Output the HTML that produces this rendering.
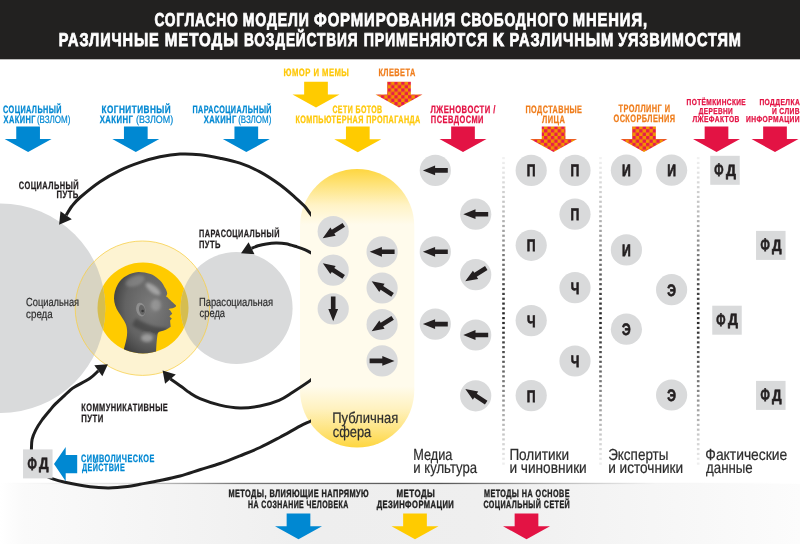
<!DOCTYPE html>
<html><head><meta charset="utf-8"><style>
html,body{margin:0;padding:0;background:#fff;}
svg{display:block;font-family:"Liberation Sans",sans-serif;text-rendering:geometricPrecision;will-change:transform;}
</style></head><body>
<svg width="800" height="544" viewBox="0 0 800 544">
<defs>
<pattern id="chk" x="0" y="0" width="6.8" height="6.8" patternUnits="userSpaceOnUse">
<rect width="6.8" height="6.8" fill="#f39200"/>
<rect x="0.05" y="0.05" width="3.3" height="3.3" fill="#e5184f"/>
<rect x="3.45" y="3.45" width="3.3" height="3.3" fill="#e5184f"/>
</pattern>
<linearGradient id="caps" x1="0" y1="169" x2="0" y2="447.5" gradientUnits="userSpaceOnUse">
<stop offset="0" stop-color="#fed640"/>
<stop offset="0.06" stop-color="#fee47f"/>
<stop offset="0.13" stop-color="#fff3c6"/>
<stop offset="0.2" stop-color="#fffbec"/>
<stop offset="0.78" stop-color="#fffbec"/>
<stop offset="0.86" stop-color="#fff2c0"/>
<stop offset="0.94" stop-color="#fee37c"/>
<stop offset="1" stop-color="#fed640"/>
</linearGradient>
<linearGradient id="band" x1="0" y1="0" x2="800" y2="0" gradientUnits="userSpaceOnUse">
<stop offset="0" stop-color="#ffffff"/>
<stop offset="0.03" stop-color="#fafafa"/>
<stop offset="0.4" stop-color="#eeeeee"/>
<stop offset="0.6" stop-color="#efefef"/>
<stop offset="1" stop-color="#fcfcfc"/>
</linearGradient>
<linearGradient id="bandline" x1="0" y1="0" x2="800" y2="0" gradientUnits="userSpaceOnUse">
<stop offset="0" stop-color="#ffffff"/>
<stop offset="0.15" stop-color="#e0e0e0"/>
<stop offset="0.3" stop-color="#777777"/>
<stop offset="0.55" stop-color="#555555"/>
<stop offset="0.7" stop-color="#bbbbbb"/>
<stop offset="0.82" stop-color="#f4f4f4"/>
<stop offset="1" stop-color="#ffffff"/>
</linearGradient>
<linearGradient id="dots" x1="0" y1="157" x2="0" y2="463" gradientUnits="userSpaceOnUse">
<stop offset="0" stop-color="#f2f2f2"/>
<stop offset="0.2" stop-color="#b5b5b5"/>
<stop offset="0.4" stop-color="#555"/>
<stop offset="0.52" stop-color="#222"/>
<stop offset="0.7" stop-color="#666"/>
<stop offset="0.88" stop-color="#bbb"/>
<stop offset="1" stop-color="#eee"/>
</linearGradient>
<radialGradient id="headg" cx="0.6" cy="0.42" r="0.7">
<stop offset="0" stop-color="#7c7c7c"/>
<stop offset="0.6" stop-color="#626262"/>
<stop offset="1" stop-color="#363636"/>
</radialGradient>
<filter id="blur2" x="-20%" y="-20%" width="140%" height="140%"><feGaussianBlur stdDeviation="1.6"/></filter>
<clipPath id="headclip"><path d="M138.3,271.9 C130,272.5 122,277 118,284 C115,289 114,294 114,298.4 C114,303 116,308 118.1,311.5 C121,316 124,320 125.5,323.5 C127.5,328 127.5,334 126.5,338.5 C125.5,344 124,348 122,356 L156,356 C156,349 156.5,342 157.5,334.3 C158,332 159,331.8 160,331.5 C164,330.5 168,329 170.7,326.7 C170.5,324 170,322 170.2,320.2 C171,319.5 171.7,318.8 171.7,318.2 C170.5,317.5 169.5,316.8 169.7,316.1 C171,315 172.2,314.3 172.2,313.6 C171.5,312.5 170.7,311.8 170.7,311.1 C170,310 169,309.6 168.6,309 C171,308.6 174.5,308 175.6,306.8 C176.4,306 176.2,305.4 175.6,304.9 C173.5,303.2 172,302 171,300.8 C169.5,299.4 168.3,298.4 167.8,297.5 C167,297 166.4,296.8 166.1,296.4 C166.8,295 167.3,294 167.2,293.3 C166.5,290.5 165.8,289 164.6,287.3 C163,283.5 161,281 158.6,279.2 C156,277 153,275 150.5,274.1 C146.5,272.5 142,271.8 138.3,271.9 Z"/></clipPath>
<clipPath id="innerclip"><circle cx="143" cy="308" r="45.5"/></clipPath>
<marker id="ah" viewBox="0 0 10 10" refX="2" refY="5" markerWidth="4.2" markerHeight="4.2" orient="auto-start-reverse" markerUnits="strokeWidth">
<path d="M0,0 L10,5 L0,10 Z" fill="#1e1e1e"/>
</marker>
</defs>

<rect x="0" y="0" width="800" height="59.3" fill="#222120"/>
<text x="154.44" y="26.40" font-size="18.6" font-weight="bold" fill="#fff" stroke="#fff" stroke-width="0.8" letter-spacing="1.12" textLength="84.10" lengthAdjust="spacingAndGlyphs">СОГЛАСНО</text>
<text x="242.82" y="26.40" font-size="18.6" font-weight="bold" fill="#fff" stroke="#fff" stroke-width="0.8" letter-spacing="1.12" textLength="66.78" lengthAdjust="spacingAndGlyphs">МОДЕЛИ</text>
<text x="314.05" y="26.40" font-size="18.6" font-weight="bold" fill="#fff" stroke="#fff" stroke-width="0.8" letter-spacing="1.12" textLength="142.06" lengthAdjust="spacingAndGlyphs">ФОРМИРОВАНИЯ</text>
<text x="460.78" y="26.40" font-size="18.6" font-weight="bold" fill="#fff" stroke="#fff" stroke-width="0.8" letter-spacing="1.12" textLength="108.32" lengthAdjust="spacingAndGlyphs">СВОБОДНОГО</text>
<text x="572.82" y="26.40" font-size="18.6" font-weight="bold" fill="#fff" stroke="#fff" stroke-width="0.8" letter-spacing="1.12" textLength="75.07" lengthAdjust="spacingAndGlyphs">МНЕНИЯ,</text>
<text x="58.82" y="46.10" font-size="18.6" font-weight="bold" fill="#fff" stroke="#fff" stroke-width="0.8" letter-spacing="1.12" textLength="100.88" lengthAdjust="spacingAndGlyphs">РАЗЛИЧНЫЕ</text>
<text x="164.74" y="46.10" font-size="18.6" font-weight="bold" fill="#fff" stroke="#fff" stroke-width="0.8" letter-spacing="1.12" textLength="74.11" lengthAdjust="spacingAndGlyphs">МЕТОДЫ</text>
<text x="243.90" y="46.10" font-size="18.6" font-weight="bold" fill="#fff" stroke="#fff" stroke-width="0.8" letter-spacing="1.12" textLength="114.49" lengthAdjust="spacingAndGlyphs">ВОЗДЕЙСТВИЯ</text>
<text x="363.63" y="46.10" font-size="18.6" font-weight="bold" fill="#fff" stroke="#fff" stroke-width="0.8" letter-spacing="1.12" textLength="124.62" lengthAdjust="spacingAndGlyphs">ПРИМЕНЯЮТСЯ</text>
<text x="492.46" y="46.10" font-size="18.6" font-weight="bold" fill="#fff" stroke="#fff" stroke-width="0.8" letter-spacing="1.12" textLength="12.69" lengthAdjust="spacingAndGlyphs">К</text>
<text x="509.56" y="46.10" font-size="18.6" font-weight="bold" fill="#fff" stroke="#fff" stroke-width="0.8" letter-spacing="1.12" textLength="104.62" lengthAdjust="spacingAndGlyphs">РАЗЛИЧНЫМ</text>
<text x="618.35" y="46.10" font-size="18.6" font-weight="bold" fill="#fff" stroke="#fff" stroke-width="0.8" letter-spacing="1.12" textLength="123.43" lengthAdjust="spacingAndGlyphs">УЯЗВИМОСТЯМ</text>
<rect x="0" y="483.5" width="800" height="60.5" fill="url(#band)"/>
<rect x="0" y="482.8" width="800" height="1.3" fill="url(#bandline)"/>
<circle cx="0.5" cy="308.3" r="104.8" fill="#d9dadb"/>
<circle cx="236.6" cy="308" r="56" fill="#d9dadb"/>
<circle cx="142.4" cy="308.2" r="67.2" fill="#fdf3d2"/>
<circle cx="143" cy="308" r="45.5" fill="#ffcb00"/>
<clipPath id="haloclip"><circle cx="142.4" cy="308.2" r="67.2"/></clipPath>
<clipPath id="inclip2"><circle cx="143" cy="308" r="45.5"/></clipPath>
<g clip-path="url(#haloclip)"><circle cx="0.5" cy="308.3" r="104.8" fill="#d8d4c2"/><circle cx="236.6" cy="308" r="56" fill="#d8d4c2"/></g>
<g clip-path="url(#inclip2)"><circle cx="0.5" cy="308.3" r="104.8" fill="#d5bd50"/><circle cx="236.6" cy="308" r="56" fill="#d5bd50"/></g>
<circle cx="142.4" cy="308.2" r="67.2" fill="none" stroke="#f7cc3c" stroke-width="0.8" opacity="0.9"/>
<g clip-path="url(#innerclip)">
<path d="M138.3,271.9 C130,272.5 122,277 118,284 C115,289 114,294 114,298.4 C114,303 116,308 118.1,311.5 C121,316 124,320 125.5,323.5 C127.5,328 127.5,334 126.5,338.5 C125.5,344 124,348 122,356 L156,356 C156,349 156.5,342 157.5,334.3 C158,332 159,331.8 160,331.5 C164,330.5 168,329 170.7,326.7 C170.5,324 170,322 170.2,320.2 C171,319.5 171.7,318.8 171.7,318.2 C170.5,317.5 169.5,316.8 169.7,316.1 C171,315 172.2,314.3 172.2,313.6 C171.5,312.5 170.7,311.8 170.7,311.1 C170,310 169,309.6 168.6,309 C171,308.6 174.5,308 175.6,306.8 C176.4,306 176.2,305.4 175.6,304.9 C173.5,303.2 172,302 171,300.8 C169.5,299.4 168.3,298.4 167.8,297.5 C167,297 166.4,296.8 166.1,296.4 C166.8,295 167.3,294 167.2,293.3 C166.5,290.5 165.8,289 164.6,287.3 C163,283.5 161,281 158.6,279.2 C156,277 153,275 150.5,274.1 C146.5,272.5 142,271.8 138.3,271.9 Z" fill="url(#headg)"/>
<g clip-path="url(#headclip)" filter="url(#blur2)">
<ellipse cx="153" cy="289" rx="9" ry="3.5" fill="#d0d0d0" opacity="0.55" transform="rotate(38 153 289)"/>
<ellipse cx="135" cy="281" rx="10" ry="5" fill="#c0c0c0" opacity="0.3" transform="rotate(-20 135 281)"/>
<ellipse cx="156" cy="305" rx="5" ry="6" fill="#c8c8c8" opacity="0.35"/>
<ellipse cx="147" cy="338" rx="6" ry="4" fill="#d0d0d0" opacity="0.5"/>
<path d="M136,318 C145,324 155,328 168,328 L162,335 C150,335 140,331 132,325 Z" fill="#111" opacity="0.28"/>
</g>
<ellipse cx="140.8" cy="309.6" rx="4.6" ry="7" fill="#8e8e8e" transform="rotate(-12 140.8 309.6)"/>
<ellipse cx="142" cy="310" rx="3" ry="5" fill="#656565" transform="rotate(-12 142 310)"/>
<circle cx="142.6" cy="311" r="1.3" fill="#3a3a3a"/>
</g>
<rect x="300" y="169" width="114.3" height="278.5" rx="57.15" ry="57.15" fill="url(#caps)"/>
<clipPath id="lclip"><rect x="0" y="0" width="311" height="544"/></clipPath>
<path d="M66.15,215.30 C67.12,213.75 69.69,208.97 72.00,206.00 C74.31,203.03 75.33,201.55 80.00,197.50 C84.67,193.45 93.33,186.23 100.00,181.70 C106.67,177.17 113.33,173.52 120.00,170.30 C126.67,167.08 133.33,164.65 140.00,162.40 C146.67,160.15 153.33,158.18 160.00,156.80 C166.67,155.42 173.33,154.43 180.00,154.10 C186.67,153.77 193.33,154.12 200.00,154.80 C206.67,155.48 213.33,156.80 220.00,158.20 C226.67,159.60 233.33,160.92 240.00,163.20 C246.67,165.48 253.33,168.30 260.00,171.90 C266.67,175.50 274.17,180.57 280.00,184.80 C285.83,189.03 290.93,193.75 295.00,197.30 C299.07,200.85 301.73,203.22 304.40,206.10 C307.07,208.98 308.73,211.70 311.00,214.60 C313.27,217.50 316.83,222.02 318.00,223.50" fill="none" stroke="#1e1e1e" stroke-width="3.0" clip-path="url(#lclip)"/>
<polygon points="59.1,224.8 60.5,211.3 71.8,219.3" fill="#1e1e1e"/>
<path d="M251.55,248.25 C252.62,247.84 255.54,246.53 258.00,245.80 C260.46,245.08 263.30,244.37 266.30,243.90 C269.30,243.43 272.72,243.03 276.00,243.00 C279.28,242.97 282.50,243.05 286.00,243.70 C289.50,244.35 293.78,245.87 297.00,246.90 C300.22,247.93 303.03,248.95 305.30,249.90 C307.57,250.85 308.48,251.42 310.60,252.60 C312.72,253.78 316.77,256.27 318.00,257.00" fill="none" stroke="#1e1e1e" stroke-width="3.0" clip-path="url(#lclip)"/>
<polygon points="241,253.2 248.6,242.2 254.5,254.3" fill="#1e1e1e"/>
<path d="M170.50,379.00 C172.42,380.33 178.85,384.73 182.00,387.00 C185.15,389.27 186.40,390.67 189.40,392.60 C192.40,394.53 194.92,396.52 200.00,398.60 C205.08,400.68 213.23,403.53 219.90,405.10 C226.57,406.67 233.32,407.85 240.00,408.00 C246.68,408.15 253.50,407.28 260.00,406.00 C266.50,404.72 273.55,402.60 279.00,400.30 C284.45,398.00 287.47,395.52 292.70,392.20 C297.93,388.88 306.18,383.52 310.40,380.40 C314.62,377.28 316.73,374.65 318.00,373.50" fill="none" stroke="#1e1e1e" stroke-width="3.0" clip-path="url(#lclip)"/>
<polygon points="162.6,370.5 165.1,383.75 175.8,374.4" fill="#1e1e1e"/>
<path d="M31.40,452.00 C31.40,451.67 31.28,452.10 31.40,450.00 C31.52,447.90 31.37,442.75 32.10,439.40 C32.83,436.05 34.15,433.13 35.80,429.90 C37.45,426.67 39.62,423.32 42.00,420.00 C44.38,416.68 47.93,412.60 50.10,410.00 C52.27,407.40 52.62,406.80 55.00,404.40 C57.38,402.00 61.90,397.95 64.40,395.60 C66.90,393.25 68.23,391.77 70.00,390.30 C71.77,388.83 71.67,388.82 75.00,386.80 C78.33,384.78 86.12,380.87 90.00,378.20 C93.88,375.53 96.92,372.03 98.30,370.80" fill="none" stroke="#1e1e1e" stroke-width="3.0" clip-path="url(#lclip)"/>
<polygon points="107.9,364.2 94.3,365.3 102.35,376.3" fill="#1e1e1e"/>
<path d="M44.00,475.00 C45.33,475.60 48.50,477.40 52.00,478.60 C55.50,479.80 58.67,480.83 65.00,482.20 C71.33,483.57 82.71,485.85 90.00,486.80 C97.29,487.75 102.50,487.93 108.75,487.90 C115.00,487.87 122.29,487.20 127.50,486.60 C132.71,486.00 134.58,485.32 140.00,484.30 C145.42,483.28 153.33,481.88 160.00,480.50 C166.67,479.12 173.23,477.83 180.00,476.00 C186.77,474.17 193.93,471.58 200.60,469.50 C207.27,467.42 213.43,465.78 220.00,463.50 C226.57,461.22 233.33,458.47 240.00,455.80 C246.67,453.13 253.33,450.60 260.00,447.50 C266.67,444.40 273.33,440.75 280.00,437.20 C286.67,433.65 294.86,428.90 300.00,426.20 C305.14,423.50 307.85,422.53 310.85,421.00 C313.85,419.47 316.81,417.67 318.00,417.00" fill="none" stroke="#1e1e1e" stroke-width="3.0" clip-path="url(#lclip)"/>
<rect x="502.20" y="157.00" width="2.6" height="2.2" fill="url(#dots)"/>
<rect x="502.20" y="161.85" width="2.6" height="2.2" fill="url(#dots)"/>
<rect x="502.20" y="166.70" width="2.6" height="2.2" fill="url(#dots)"/>
<rect x="502.20" y="171.55" width="2.6" height="2.2" fill="url(#dots)"/>
<rect x="502.20" y="176.40" width="2.6" height="2.2" fill="url(#dots)"/>
<rect x="502.20" y="181.25" width="2.6" height="2.2" fill="url(#dots)"/>
<rect x="502.20" y="186.10" width="2.6" height="2.2" fill="url(#dots)"/>
<rect x="502.20" y="190.95" width="2.6" height="2.2" fill="url(#dots)"/>
<rect x="502.20" y="195.80" width="2.6" height="2.2" fill="url(#dots)"/>
<rect x="502.20" y="200.65" width="2.6" height="2.2" fill="url(#dots)"/>
<rect x="502.20" y="205.50" width="2.6" height="2.2" fill="url(#dots)"/>
<rect x="502.20" y="210.35" width="2.6" height="2.2" fill="url(#dots)"/>
<rect x="502.20" y="215.20" width="2.6" height="2.2" fill="url(#dots)"/>
<rect x="502.20" y="220.05" width="2.6" height="2.2" fill="url(#dots)"/>
<rect x="502.20" y="224.90" width="2.6" height="2.2" fill="url(#dots)"/>
<rect x="502.20" y="229.75" width="2.6" height="2.2" fill="url(#dots)"/>
<rect x="502.20" y="234.60" width="2.6" height="2.2" fill="url(#dots)"/>
<rect x="502.20" y="239.45" width="2.6" height="2.2" fill="url(#dots)"/>
<rect x="502.20" y="244.30" width="2.6" height="2.2" fill="url(#dots)"/>
<rect x="502.20" y="249.15" width="2.6" height="2.2" fill="url(#dots)"/>
<rect x="502.20" y="254.00" width="2.6" height="2.2" fill="url(#dots)"/>
<rect x="502.20" y="258.85" width="2.6" height="2.2" fill="url(#dots)"/>
<rect x="502.20" y="263.70" width="2.6" height="2.2" fill="url(#dots)"/>
<rect x="502.20" y="268.55" width="2.6" height="2.2" fill="url(#dots)"/>
<rect x="502.20" y="273.40" width="2.6" height="2.2" fill="url(#dots)"/>
<rect x="502.20" y="278.25" width="2.6" height="2.2" fill="url(#dots)"/>
<rect x="502.20" y="283.10" width="2.6" height="2.2" fill="url(#dots)"/>
<rect x="502.20" y="287.95" width="2.6" height="2.2" fill="url(#dots)"/>
<rect x="502.20" y="292.80" width="2.6" height="2.2" fill="url(#dots)"/>
<rect x="502.20" y="297.65" width="2.6" height="2.2" fill="url(#dots)"/>
<rect x="502.20" y="302.50" width="2.6" height="2.2" fill="url(#dots)"/>
<rect x="502.20" y="307.35" width="2.6" height="2.2" fill="url(#dots)"/>
<rect x="502.20" y="312.20" width="2.6" height="2.2" fill="url(#dots)"/>
<rect x="502.20" y="317.05" width="2.6" height="2.2" fill="url(#dots)"/>
<rect x="502.20" y="321.90" width="2.6" height="2.2" fill="url(#dots)"/>
<rect x="502.20" y="326.75" width="2.6" height="2.2" fill="url(#dots)"/>
<rect x="502.20" y="331.60" width="2.6" height="2.2" fill="url(#dots)"/>
<rect x="502.20" y="336.45" width="2.6" height="2.2" fill="url(#dots)"/>
<rect x="502.20" y="341.30" width="2.6" height="2.2" fill="url(#dots)"/>
<rect x="502.20" y="346.15" width="2.6" height="2.2" fill="url(#dots)"/>
<rect x="502.20" y="351.00" width="2.6" height="2.2" fill="url(#dots)"/>
<rect x="502.20" y="355.85" width="2.6" height="2.2" fill="url(#dots)"/>
<rect x="502.20" y="360.70" width="2.6" height="2.2" fill="url(#dots)"/>
<rect x="502.20" y="365.55" width="2.6" height="2.2" fill="url(#dots)"/>
<rect x="502.20" y="370.40" width="2.6" height="2.2" fill="url(#dots)"/>
<rect x="502.20" y="375.25" width="2.6" height="2.2" fill="url(#dots)"/>
<rect x="502.20" y="380.10" width="2.6" height="2.2" fill="url(#dots)"/>
<rect x="502.20" y="384.95" width="2.6" height="2.2" fill="url(#dots)"/>
<rect x="502.20" y="389.80" width="2.6" height="2.2" fill="url(#dots)"/>
<rect x="502.20" y="394.65" width="2.6" height="2.2" fill="url(#dots)"/>
<rect x="502.20" y="399.50" width="2.6" height="2.2" fill="url(#dots)"/>
<rect x="502.20" y="404.35" width="2.6" height="2.2" fill="url(#dots)"/>
<rect x="502.20" y="409.20" width="2.6" height="2.2" fill="url(#dots)"/>
<rect x="502.20" y="414.05" width="2.6" height="2.2" fill="url(#dots)"/>
<rect x="502.20" y="418.90" width="2.6" height="2.2" fill="url(#dots)"/>
<rect x="502.20" y="423.75" width="2.6" height="2.2" fill="url(#dots)"/>
<rect x="502.20" y="428.60" width="2.6" height="2.2" fill="url(#dots)"/>
<rect x="502.20" y="433.45" width="2.6" height="2.2" fill="url(#dots)"/>
<rect x="502.20" y="438.30" width="2.6" height="2.2" fill="url(#dots)"/>
<rect x="502.20" y="443.15" width="2.6" height="2.2" fill="url(#dots)"/>
<rect x="502.20" y="448.00" width="2.6" height="2.2" fill="url(#dots)"/>
<rect x="502.20" y="452.85" width="2.6" height="2.2" fill="url(#dots)"/>
<rect x="502.20" y="457.70" width="2.6" height="2.2" fill="url(#dots)"/>
<rect x="502.20" y="462.55" width="2.6" height="2.2" fill="url(#dots)"/>
<rect x="599.20" y="157.00" width="2.6" height="2.2" fill="url(#dots)"/>
<rect x="599.20" y="161.85" width="2.6" height="2.2" fill="url(#dots)"/>
<rect x="599.20" y="166.70" width="2.6" height="2.2" fill="url(#dots)"/>
<rect x="599.20" y="171.55" width="2.6" height="2.2" fill="url(#dots)"/>
<rect x="599.20" y="176.40" width="2.6" height="2.2" fill="url(#dots)"/>
<rect x="599.20" y="181.25" width="2.6" height="2.2" fill="url(#dots)"/>
<rect x="599.20" y="186.10" width="2.6" height="2.2" fill="url(#dots)"/>
<rect x="599.20" y="190.95" width="2.6" height="2.2" fill="url(#dots)"/>
<rect x="599.20" y="195.80" width="2.6" height="2.2" fill="url(#dots)"/>
<rect x="599.20" y="200.65" width="2.6" height="2.2" fill="url(#dots)"/>
<rect x="599.20" y="205.50" width="2.6" height="2.2" fill="url(#dots)"/>
<rect x="599.20" y="210.35" width="2.6" height="2.2" fill="url(#dots)"/>
<rect x="599.20" y="215.20" width="2.6" height="2.2" fill="url(#dots)"/>
<rect x="599.20" y="220.05" width="2.6" height="2.2" fill="url(#dots)"/>
<rect x="599.20" y="224.90" width="2.6" height="2.2" fill="url(#dots)"/>
<rect x="599.20" y="229.75" width="2.6" height="2.2" fill="url(#dots)"/>
<rect x="599.20" y="234.60" width="2.6" height="2.2" fill="url(#dots)"/>
<rect x="599.20" y="239.45" width="2.6" height="2.2" fill="url(#dots)"/>
<rect x="599.20" y="244.30" width="2.6" height="2.2" fill="url(#dots)"/>
<rect x="599.20" y="249.15" width="2.6" height="2.2" fill="url(#dots)"/>
<rect x="599.20" y="254.00" width="2.6" height="2.2" fill="url(#dots)"/>
<rect x="599.20" y="258.85" width="2.6" height="2.2" fill="url(#dots)"/>
<rect x="599.20" y="263.70" width="2.6" height="2.2" fill="url(#dots)"/>
<rect x="599.20" y="268.55" width="2.6" height="2.2" fill="url(#dots)"/>
<rect x="599.20" y="273.40" width="2.6" height="2.2" fill="url(#dots)"/>
<rect x="599.20" y="278.25" width="2.6" height="2.2" fill="url(#dots)"/>
<rect x="599.20" y="283.10" width="2.6" height="2.2" fill="url(#dots)"/>
<rect x="599.20" y="287.95" width="2.6" height="2.2" fill="url(#dots)"/>
<rect x="599.20" y="292.80" width="2.6" height="2.2" fill="url(#dots)"/>
<rect x="599.20" y="297.65" width="2.6" height="2.2" fill="url(#dots)"/>
<rect x="599.20" y="302.50" width="2.6" height="2.2" fill="url(#dots)"/>
<rect x="599.20" y="307.35" width="2.6" height="2.2" fill="url(#dots)"/>
<rect x="599.20" y="312.20" width="2.6" height="2.2" fill="url(#dots)"/>
<rect x="599.20" y="317.05" width="2.6" height="2.2" fill="url(#dots)"/>
<rect x="599.20" y="321.90" width="2.6" height="2.2" fill="url(#dots)"/>
<rect x="599.20" y="326.75" width="2.6" height="2.2" fill="url(#dots)"/>
<rect x="599.20" y="331.60" width="2.6" height="2.2" fill="url(#dots)"/>
<rect x="599.20" y="336.45" width="2.6" height="2.2" fill="url(#dots)"/>
<rect x="599.20" y="341.30" width="2.6" height="2.2" fill="url(#dots)"/>
<rect x="599.20" y="346.15" width="2.6" height="2.2" fill="url(#dots)"/>
<rect x="599.20" y="351.00" width="2.6" height="2.2" fill="url(#dots)"/>
<rect x="599.20" y="355.85" width="2.6" height="2.2" fill="url(#dots)"/>
<rect x="599.20" y="360.70" width="2.6" height="2.2" fill="url(#dots)"/>
<rect x="599.20" y="365.55" width="2.6" height="2.2" fill="url(#dots)"/>
<rect x="599.20" y="370.40" width="2.6" height="2.2" fill="url(#dots)"/>
<rect x="599.20" y="375.25" width="2.6" height="2.2" fill="url(#dots)"/>
<rect x="599.20" y="380.10" width="2.6" height="2.2" fill="url(#dots)"/>
<rect x="599.20" y="384.95" width="2.6" height="2.2" fill="url(#dots)"/>
<rect x="599.20" y="389.80" width="2.6" height="2.2" fill="url(#dots)"/>
<rect x="599.20" y="394.65" width="2.6" height="2.2" fill="url(#dots)"/>
<rect x="599.20" y="399.50" width="2.6" height="2.2" fill="url(#dots)"/>
<rect x="599.20" y="404.35" width="2.6" height="2.2" fill="url(#dots)"/>
<rect x="599.20" y="409.20" width="2.6" height="2.2" fill="url(#dots)"/>
<rect x="599.20" y="414.05" width="2.6" height="2.2" fill="url(#dots)"/>
<rect x="599.20" y="418.90" width="2.6" height="2.2" fill="url(#dots)"/>
<rect x="599.20" y="423.75" width="2.6" height="2.2" fill="url(#dots)"/>
<rect x="599.20" y="428.60" width="2.6" height="2.2" fill="url(#dots)"/>
<rect x="599.20" y="433.45" width="2.6" height="2.2" fill="url(#dots)"/>
<rect x="599.20" y="438.30" width="2.6" height="2.2" fill="url(#dots)"/>
<rect x="599.20" y="443.15" width="2.6" height="2.2" fill="url(#dots)"/>
<rect x="599.20" y="448.00" width="2.6" height="2.2" fill="url(#dots)"/>
<rect x="599.20" y="452.85" width="2.6" height="2.2" fill="url(#dots)"/>
<rect x="599.20" y="457.70" width="2.6" height="2.2" fill="url(#dots)"/>
<rect x="599.20" y="462.55" width="2.6" height="2.2" fill="url(#dots)"/>
<rect x="696.90" y="157.00" width="2.6" height="2.2" fill="url(#dots)"/>
<rect x="696.90" y="161.85" width="2.6" height="2.2" fill="url(#dots)"/>
<rect x="696.90" y="166.70" width="2.6" height="2.2" fill="url(#dots)"/>
<rect x="696.90" y="171.55" width="2.6" height="2.2" fill="url(#dots)"/>
<rect x="696.90" y="176.40" width="2.6" height="2.2" fill="url(#dots)"/>
<rect x="696.90" y="181.25" width="2.6" height="2.2" fill="url(#dots)"/>
<rect x="696.90" y="186.10" width="2.6" height="2.2" fill="url(#dots)"/>
<rect x="696.90" y="190.95" width="2.6" height="2.2" fill="url(#dots)"/>
<rect x="696.90" y="195.80" width="2.6" height="2.2" fill="url(#dots)"/>
<rect x="696.90" y="200.65" width="2.6" height="2.2" fill="url(#dots)"/>
<rect x="696.90" y="205.50" width="2.6" height="2.2" fill="url(#dots)"/>
<rect x="696.90" y="210.35" width="2.6" height="2.2" fill="url(#dots)"/>
<rect x="696.90" y="215.20" width="2.6" height="2.2" fill="url(#dots)"/>
<rect x="696.90" y="220.05" width="2.6" height="2.2" fill="url(#dots)"/>
<rect x="696.90" y="224.90" width="2.6" height="2.2" fill="url(#dots)"/>
<rect x="696.90" y="229.75" width="2.6" height="2.2" fill="url(#dots)"/>
<rect x="696.90" y="234.60" width="2.6" height="2.2" fill="url(#dots)"/>
<rect x="696.90" y="239.45" width="2.6" height="2.2" fill="url(#dots)"/>
<rect x="696.90" y="244.30" width="2.6" height="2.2" fill="url(#dots)"/>
<rect x="696.90" y="249.15" width="2.6" height="2.2" fill="url(#dots)"/>
<rect x="696.90" y="254.00" width="2.6" height="2.2" fill="url(#dots)"/>
<rect x="696.90" y="258.85" width="2.6" height="2.2" fill="url(#dots)"/>
<rect x="696.90" y="263.70" width="2.6" height="2.2" fill="url(#dots)"/>
<rect x="696.90" y="268.55" width="2.6" height="2.2" fill="url(#dots)"/>
<rect x="696.90" y="273.40" width="2.6" height="2.2" fill="url(#dots)"/>
<rect x="696.90" y="278.25" width="2.6" height="2.2" fill="url(#dots)"/>
<rect x="696.90" y="283.10" width="2.6" height="2.2" fill="url(#dots)"/>
<rect x="696.90" y="287.95" width="2.6" height="2.2" fill="url(#dots)"/>
<rect x="696.90" y="292.80" width="2.6" height="2.2" fill="url(#dots)"/>
<rect x="696.90" y="297.65" width="2.6" height="2.2" fill="url(#dots)"/>
<rect x="696.90" y="302.50" width="2.6" height="2.2" fill="url(#dots)"/>
<rect x="696.90" y="307.35" width="2.6" height="2.2" fill="url(#dots)"/>
<rect x="696.90" y="312.20" width="2.6" height="2.2" fill="url(#dots)"/>
<rect x="696.90" y="317.05" width="2.6" height="2.2" fill="url(#dots)"/>
<rect x="696.90" y="321.90" width="2.6" height="2.2" fill="url(#dots)"/>
<rect x="696.90" y="326.75" width="2.6" height="2.2" fill="url(#dots)"/>
<rect x="696.90" y="331.60" width="2.6" height="2.2" fill="url(#dots)"/>
<rect x="696.90" y="336.45" width="2.6" height="2.2" fill="url(#dots)"/>
<rect x="696.90" y="341.30" width="2.6" height="2.2" fill="url(#dots)"/>
<rect x="696.90" y="346.15" width="2.6" height="2.2" fill="url(#dots)"/>
<rect x="696.90" y="351.00" width="2.6" height="2.2" fill="url(#dots)"/>
<rect x="696.90" y="355.85" width="2.6" height="2.2" fill="url(#dots)"/>
<rect x="696.90" y="360.70" width="2.6" height="2.2" fill="url(#dots)"/>
<rect x="696.90" y="365.55" width="2.6" height="2.2" fill="url(#dots)"/>
<rect x="696.90" y="370.40" width="2.6" height="2.2" fill="url(#dots)"/>
<rect x="696.90" y="375.25" width="2.6" height="2.2" fill="url(#dots)"/>
<rect x="696.90" y="380.10" width="2.6" height="2.2" fill="url(#dots)"/>
<rect x="696.90" y="384.95" width="2.6" height="2.2" fill="url(#dots)"/>
<rect x="696.90" y="389.80" width="2.6" height="2.2" fill="url(#dots)"/>
<rect x="696.90" y="394.65" width="2.6" height="2.2" fill="url(#dots)"/>
<rect x="696.90" y="399.50" width="2.6" height="2.2" fill="url(#dots)"/>
<rect x="696.90" y="404.35" width="2.6" height="2.2" fill="url(#dots)"/>
<rect x="696.90" y="409.20" width="2.6" height="2.2" fill="url(#dots)"/>
<rect x="696.90" y="414.05" width="2.6" height="2.2" fill="url(#dots)"/>
<rect x="696.90" y="418.90" width="2.6" height="2.2" fill="url(#dots)"/>
<rect x="696.90" y="423.75" width="2.6" height="2.2" fill="url(#dots)"/>
<rect x="696.90" y="428.60" width="2.6" height="2.2" fill="url(#dots)"/>
<rect x="696.90" y="433.45" width="2.6" height="2.2" fill="url(#dots)"/>
<rect x="696.90" y="438.30" width="2.6" height="2.2" fill="url(#dots)"/>
<rect x="696.90" y="443.15" width="2.6" height="2.2" fill="url(#dots)"/>
<rect x="696.90" y="448.00" width="2.6" height="2.2" fill="url(#dots)"/>
<rect x="696.90" y="452.85" width="2.6" height="2.2" fill="url(#dots)"/>
<rect x="696.90" y="457.70" width="2.6" height="2.2" fill="url(#dots)"/>
<rect x="696.90" y="462.55" width="2.6" height="2.2" fill="url(#dots)"/>
<circle cx="333.2" cy="231.5" r="15.6" fill="#d9dadb"/>
<path d="M-12.4,0 L-0.2,-4.9 L-0.2,-2.3 L12.5,-2.3 L12.5,2.3 L-0.2,2.3 L-0.2,4.9 Z" fill="#231f20" transform="translate(333.2,231.5) rotate(-32.3)"/>
<circle cx="333.2" cy="270.1" r="15.6" fill="#d9dadb"/>
<path d="M-12.4,0 L-0.2,-4.9 L-0.2,-2.3 L12.5,-2.3 L12.5,2.3 L-0.2,2.3 L-0.2,4.9 Z" fill="#231f20" transform="translate(333.2,270.1) rotate(33)"/>
<circle cx="333.2" cy="308.9" r="15.6" fill="#d9dadb"/>
<path d="M-12.4,0 L-0.2,-4.9 L-0.2,-2.3 L12.5,-2.3 L12.5,2.3 L-0.2,2.3 L-0.2,4.9 Z" fill="#231f20" transform="translate(333.2,308.9) rotate(-90)"/>
<circle cx="382.1" cy="251.8" r="15.6" fill="#d9dadb"/>
<path d="M-12.4,0 L-0.2,-4.9 L-0.2,-2.3 L12.5,-2.3 L12.5,2.3 L-0.2,2.3 L-0.2,4.9 Z" fill="#231f20" transform="translate(382.1,251.8) rotate(0)"/>
<circle cx="382.1" cy="288.0" r="15.6" fill="#d9dadb"/>
<path d="M-12.4,0 L-0.2,-4.9 L-0.2,-2.3 L12.5,-2.3 L12.5,2.3 L-0.2,2.3 L-0.2,4.9 Z" fill="#231f20" transform="translate(382.1,288.0) rotate(33)"/>
<circle cx="382.1" cy="324.5" r="15.6" fill="#d9dadb"/>
<path d="M-12.4,0 L-0.2,-4.9 L-0.2,-2.3 L12.5,-2.3 L12.5,2.3 L-0.2,2.3 L-0.2,4.9 Z" fill="#231f20" transform="translate(382.1,324.5) rotate(-32.3)"/>
<circle cx="382.1" cy="360.9" r="15.6" fill="#d9dadb"/>
<path d="M-12.4,0 L-0.2,-4.9 L-0.2,-2.3 L12.5,-2.3 L12.5,2.3 L-0.2,2.3 L-0.2,4.9 Z" fill="#231f20" transform="translate(382.1,360.9) rotate(180)"/>
<circle cx="435.3" cy="170.4" r="15.6" fill="#d9dadb"/>
<path d="M-12.4,0 L-0.2,-4.9 L-0.2,-2.3 L12.5,-2.3 L12.5,2.3 L-0.2,2.3 L-0.2,4.9 Z" fill="#231f20" transform="translate(435.3,170.4) rotate(0)"/>
<circle cx="435.3" cy="251.8" r="15.6" fill="#d9dadb"/>
<path d="M-12.4,0 L-0.2,-4.9 L-0.2,-2.3 L12.5,-2.3 L12.5,2.3 L-0.2,2.3 L-0.2,4.9 Z" fill="#231f20" transform="translate(435.3,251.8) rotate(0)"/>
<circle cx="435.3" cy="324.1" r="15.6" fill="#d9dadb"/>
<path d="M-12.4,0 L-0.2,-4.9 L-0.2,-2.3 L12.5,-2.3 L12.5,2.3 L-0.2,2.3 L-0.2,4.9 Z" fill="#231f20" transform="translate(435.3,324.1) rotate(0)"/>
<circle cx="475.7" cy="214.2" r="15.6" fill="#d9dadb"/>
<path d="M-12.4,0 L-0.2,-4.9 L-0.2,-2.3 L12.5,-2.3 L12.5,2.3 L-0.2,2.3 L-0.2,4.9 Z" fill="#231f20" transform="translate(475.7,214.2) rotate(0)"/>
<circle cx="475.7" cy="274.7" r="15.6" fill="#d9dadb"/>
<path d="M-12.4,0 L-0.2,-4.9 L-0.2,-2.3 L12.5,-2.3 L12.5,2.3 L-0.2,2.3 L-0.2,4.9 Z" fill="#231f20" transform="translate(475.7,274.7) rotate(-32.3)"/>
<circle cx="475.7" cy="335.0" r="15.6" fill="#d9dadb"/>
<path d="M-12.4,0 L-0.2,-4.9 L-0.2,-2.3 L12.5,-2.3 L12.5,2.3 L-0.2,2.3 L-0.2,4.9 Z" fill="#231f20" transform="translate(475.7,335.0) rotate(0)"/>
<circle cx="475.7" cy="395.8" r="15.6" fill="#d9dadb"/>
<path d="M-12.4,0 L-0.2,-4.9 L-0.2,-2.3 L12.5,-2.3 L12.5,2.3 L-0.2,2.3 L-0.2,4.9 Z" fill="#231f20" transform="translate(475.7,395.8) rotate(33)"/>
<circle cx="531.2" cy="170.4" r="15.6" fill="#d9dadb"/>
<text x="531.2" y="176.40" font-size="16.5" font-weight="bold" fill="#231f20" stroke="#231f20" stroke-width="0.75" text-anchor="middle" transform="translate(531.2,0) scale(0.74,1) translate(-531.2,0)">П</text>
<circle cx="531.2" cy="245.3" r="15.6" fill="#d9dadb"/>
<text x="531.2" y="251.30" font-size="16.5" font-weight="bold" fill="#231f20" stroke="#231f20" stroke-width="0.75" text-anchor="middle" transform="translate(531.2,0) scale(0.74,1) translate(-531.2,0)">П</text>
<circle cx="531.2" cy="320.6" r="15.6" fill="#d9dadb"/>
<text x="531.2" y="326.60" font-size="16.5" font-weight="bold" fill="#231f20" stroke="#231f20" stroke-width="0.75" text-anchor="middle" transform="translate(531.2,0) scale(0.74,1) translate(-531.2,0)">Ч</text>
<circle cx="531.2" cy="395.6" r="15.6" fill="#d9dadb"/>
<text x="531.2" y="401.60" font-size="16.5" font-weight="bold" fill="#231f20" stroke="#231f20" stroke-width="0.75" text-anchor="middle" transform="translate(531.2,0) scale(0.74,1) translate(-531.2,0)">П</text>
<circle cx="575" cy="170.4" r="15.6" fill="#d9dadb"/>
<text x="575" y="176.40" font-size="16.5" font-weight="bold" fill="#231f20" stroke="#231f20" stroke-width="0.75" text-anchor="middle" transform="translate(575,0) scale(0.74,1) translate(-575,0)">П</text>
<circle cx="575" cy="214.2" r="15.6" fill="#d9dadb"/>
<text x="575" y="220.20" font-size="16.5" font-weight="bold" fill="#231f20" stroke="#231f20" stroke-width="0.75" text-anchor="middle" transform="translate(575,0) scale(0.74,1) translate(-575,0)">П</text>
<circle cx="575" cy="287.7" r="15.6" fill="#d9dadb"/>
<text x="575" y="293.70" font-size="16.5" font-weight="bold" fill="#231f20" stroke="#231f20" stroke-width="0.75" text-anchor="middle" transform="translate(575,0) scale(0.74,1) translate(-575,0)">Ч</text>
<circle cx="575" cy="361" r="15.6" fill="#d9dadb"/>
<text x="575" y="367.00" font-size="16.5" font-weight="bold" fill="#231f20" stroke="#231f20" stroke-width="0.75" text-anchor="middle" transform="translate(575,0) scale(0.74,1) translate(-575,0)">Ч</text>
<circle cx="626.4" cy="170.2" r="15.6" fill="#d9dadb"/>
<text x="626.4" y="176.20" font-size="16.5" font-weight="bold" fill="#231f20" stroke="#231f20" stroke-width="0.75" text-anchor="middle" transform="translate(626.4,0) scale(0.74,1) translate(-626.4,0)">И</text>
<circle cx="626.4" cy="249.9" r="15.6" fill="#d9dadb"/>
<text x="626.4" y="255.90" font-size="16.5" font-weight="bold" fill="#231f20" stroke="#231f20" stroke-width="0.75" text-anchor="middle" transform="translate(626.4,0) scale(0.74,1) translate(-626.4,0)">И</text>
<circle cx="626.4" cy="329.2" r="15.6" fill="#d9dadb"/>
<text x="626.4" y="335.20" font-size="16.5" font-weight="bold" fill="#231f20" stroke="#231f20" stroke-width="0.75" text-anchor="middle" transform="translate(626.4,0) scale(0.74,1) translate(-626.4,0)">Э</text>
<circle cx="671.6" cy="170.2" r="15.6" fill="#d9dadb"/>
<text x="671.6" y="176.20" font-size="16.5" font-weight="bold" fill="#231f20" stroke="#231f20" stroke-width="0.75" text-anchor="middle" transform="translate(671.6,0) scale(0.74,1) translate(-671.6,0)">И</text>
<circle cx="671.6" cy="289.7" r="15.6" fill="#d9dadb"/>
<text x="671.6" y="295.70" font-size="16.5" font-weight="bold" fill="#231f20" stroke="#231f20" stroke-width="0.75" text-anchor="middle" transform="translate(671.6,0) scale(0.74,1) translate(-671.6,0)">Э</text>
<circle cx="671.6" cy="395" r="15.6" fill="#d9dadb"/>
<text x="671.6" y="401.00" font-size="16.5" font-weight="bold" fill="#231f20" stroke="#231f20" stroke-width="0.75" text-anchor="middle" transform="translate(671.6,0) scale(0.74,1) translate(-671.6,0)">Э</text>
<rect x="710.25" y="155.80" width="29.5" height="29" fill="#d9dadb"/>
<text x="714.25" y="176.00" font-size="18" font-weight="bold" fill="#231f20" stroke="#231f20" stroke-width="0.7" letter-spacing="1.08" textLength="9.91" lengthAdjust="spacingAndGlyphs">Ф</text>
<text x="726.00" y="175.50" font-size="16.2" font-weight="bold" fill="#231f20" stroke="#231f20" stroke-width="0.7" letter-spacing="0.97" textLength="10.76" lengthAdjust="spacingAndGlyphs">Д</text>
<rect x="756.05" y="230.90" width="29.5" height="29" fill="#d9dadb"/>
<text x="760.48" y="251.10" font-size="18" font-weight="bold" fill="#231f20" stroke="#231f20" stroke-width="0.7" letter-spacing="1.08" textLength="9.99" lengthAdjust="spacingAndGlyphs">Ф</text>
<text x="772.04" y="250.60" font-size="16.2" font-weight="bold" fill="#231f20" stroke="#231f20" stroke-width="0.7" letter-spacing="0.97" textLength="10.34" lengthAdjust="spacingAndGlyphs">Д</text>
<rect x="712.25" y="305.70" width="29.5" height="29" fill="#d9dadb"/>
<text x="716.25" y="325.90" font-size="18" font-weight="bold" fill="#231f20" stroke="#231f20" stroke-width="0.7" letter-spacing="1.08" textLength="9.91" lengthAdjust="spacingAndGlyphs">Ф</text>
<text x="728.00" y="325.40" font-size="16.2" font-weight="bold" fill="#231f20" stroke="#231f20" stroke-width="0.7" letter-spacing="0.97" textLength="10.76" lengthAdjust="spacingAndGlyphs">Д</text>
<rect x="756.05" y="380.90" width="29.5" height="29" fill="#d9dadb"/>
<text x="760.48" y="401.10" font-size="18" font-weight="bold" fill="#231f20" stroke="#231f20" stroke-width="0.7" letter-spacing="1.08" textLength="9.99" lengthAdjust="spacingAndGlyphs">Ф</text>
<text x="772.04" y="400.60" font-size="16.2" font-weight="bold" fill="#231f20" stroke="#231f20" stroke-width="0.7" letter-spacing="0.97" textLength="10.34" lengthAdjust="spacingAndGlyphs">Д</text>
<rect x="23.05" y="449.40" width="29.5" height="29" fill="#d9dadb"/>
<text x="27.48" y="469.60" font-size="18" font-weight="bold" fill="#231f20" stroke="#231f20" stroke-width="0.7" letter-spacing="1.08" textLength="9.99" lengthAdjust="spacingAndGlyphs">Ф</text>
<text x="39.04" y="469.10" font-size="16.2" font-weight="bold" fill="#231f20" stroke="#231f20" stroke-width="0.7" letter-spacing="0.97" textLength="10.34" lengthAdjust="spacingAndGlyphs">Д</text>
<polygon points="16.25,126.50 39.95,126.50 39.95,139.10 51.60,139.10 28.10,152.10 4.60,139.10 16.25,139.10" fill="#0088d2"/>
<polygon points="123.95,126.50 147.65,126.50 147.65,139.10 159.30,139.10 135.80,152.10 112.30,139.10 123.95,139.10" fill="#0088d2"/>
<polygon points="234.45,126.50 258.15,126.50 258.15,139.10 269.80,139.10 246.30,152.10 222.80,139.10 234.45,139.10" fill="#0088d2"/>
<polygon points="304.15,81.80 327.85,81.80 327.85,94.40 339.50,94.40 316.00,107.40 292.50,94.40 304.15,94.40" fill="#ffcb00"/>
<polygon points="345.95,126.60 369.65,126.60 369.65,139.20 381.30,139.20 357.80,152.20 334.30,139.20 345.95,139.20" fill="#ffcb00"/>
<polygon points="387.15,81.80 410.85,81.80 410.85,94.40 422.50,94.40 399.00,107.40 375.50,94.40 387.15,94.40" fill="url(#chk)"/>
<polygon points="541.75,126.50 565.45,126.50 565.45,139.10 577.10,139.10 553.60,152.10 530.10,139.10 541.75,139.10" fill="url(#chk)"/>
<polygon points="632.15,126.50 655.85,126.50 655.85,139.10 667.50,139.10 644.00,152.10 620.50,139.10 632.15,139.10" fill="url(#chk)"/>
<polygon points="451.15,126.50 474.85,126.50 474.85,139.10 486.50,139.10 463.00,152.10 439.50,139.10 451.15,139.10" fill="#e31344"/>
<polygon points="704.65,126.50 728.35,126.50 728.35,139.10 740.00,139.10 716.50,152.10 693.00,139.10 704.65,139.10" fill="#e31344"/>
<polygon points="763.15,126.50 786.85,126.50 786.85,139.10 798.50,139.10 775.00,152.10 751.50,139.10 763.15,139.10" fill="#e31344"/>
<polygon points="286.65,513.60 310.35,513.60 310.35,526.20 322.00,526.20 298.50,539.20 275.00,526.20 286.65,526.20" fill="#0088d2"/>
<polygon points="403.15,513.60 426.85,513.60 426.85,526.20 438.50,526.20 415.00,539.20 391.50,526.20 403.15,526.20" fill="#ffcb00"/>
<polygon points="514.65,513.60 538.35,513.60 538.35,526.20 550.00,526.20 526.50,539.20 503.00,526.20 514.65,526.20" fill="#e31344"/>
<polygon points="54,463.9 65.7,447 65.7,454.9 77.2,454.9 77.2,473.2 65.7,473.2 65.7,481.2" fill="#0088d2"/>
<text x="3.07" y="112.80" font-size="10.7" font-weight="bold" fill="#0088d2" stroke="#0088d2" stroke-width="0.28" letter-spacing="0.64" textLength="58.87" lengthAdjust="spacingAndGlyphs">СОЦИАЛЬНЫЙ</text>
<text x="3.62" y="122.60" font-size="10.7" font-weight="bold" fill="#0088d2" stroke="#0088d2" stroke-width="0.28" letter-spacing="0.64" textLength="32.30" lengthAdjust="spacingAndGlyphs">ХАКИНГ</text>
<text x="36.93" y="122.60" font-size="10.7" font-weight="normal" fill="#0088d2" stroke="#0088d2" stroke-width="0.22" textLength="33.44" lengthAdjust="spacingAndGlyphs">(ВЗЛОМ)</text>
<text x="101.47" y="112.80" font-size="10.7" font-weight="bold" fill="#0088d2" stroke="#0088d2" stroke-width="0.28" letter-spacing="0.64" textLength="69.71" lengthAdjust="spacingAndGlyphs">КОГНИТИВНЫЙ</text>
<text x="99.66" y="122.60" font-size="10.7" font-weight="bold" fill="#0088d2" stroke="#0088d2" stroke-width="0.28" letter-spacing="0.64" textLength="33.75" lengthAdjust="spacingAndGlyphs">ХАКИНГ</text>
<text x="136.06" y="122.60" font-size="10.7" font-weight="normal" fill="#0088d2" stroke="#0088d2" stroke-width="0.22" textLength="37.21" lengthAdjust="spacingAndGlyphs">(ВЗЛОМ)</text>
<text x="192.46" y="112.80" font-size="10.7" font-weight="bold" fill="#0088d2" stroke="#0088d2" stroke-width="0.28" letter-spacing="0.64" textLength="79.51" lengthAdjust="spacingAndGlyphs">ПАРАСОЦИАЛЬНЫЙ</text>
<text x="203.64" y="122.60" font-size="10.7" font-weight="bold" fill="#0088d2" stroke="#0088d2" stroke-width="0.28" letter-spacing="0.64" textLength="33.08" lengthAdjust="spacingAndGlyphs">ХАКИНГ</text>
<text x="238.16" y="122.60" font-size="10.7" font-weight="normal" fill="#0088d2" stroke="#0088d2" stroke-width="0.22" textLength="33.22" lengthAdjust="spacingAndGlyphs">(ВЗЛОМ)</text>
<text x="283.48" y="76.20" font-size="10.7" font-weight="bold" fill="#fec80a" stroke="#fec80a" stroke-width="0.28" letter-spacing="0.64" textLength="65.90" lengthAdjust="spacingAndGlyphs">ЮМОР И МЕМЫ</text>
<text x="378.39" y="76.20" font-size="10.7" font-weight="bold" fill="#ef7d1c" stroke="#ef7d1c" stroke-width="0.28" letter-spacing="0.64" textLength="37.35" lengthAdjust="spacingAndGlyphs">КЛЕВЕТА</text>
<text x="332.42" y="113.10" font-size="10.7" font-weight="bold" fill="#fec80a" stroke="#fec80a" stroke-width="0.28" letter-spacing="0.64" textLength="50.15" lengthAdjust="spacingAndGlyphs">СЕТИ БОТОВ</text>
<text x="295.43" y="122.60" font-size="10.7" font-weight="bold" fill="#fec80a" stroke="#fec80a" stroke-width="0.28" letter-spacing="0.64" textLength="125.29" lengthAdjust="spacingAndGlyphs">КОМПЬЮТЕРНАЯ ПРОПАГАНДА</text>
<text x="430.57" y="112.90" font-size="10.7" font-weight="bold" fill="#e31344" stroke="#e31344" stroke-width="0.28" letter-spacing="0.64" textLength="65.19" lengthAdjust="spacingAndGlyphs">ЛЖЕНОВОСТИ /</text>
<text x="430.84" y="122.60" font-size="10.7" font-weight="bold" fill="#e31344" stroke="#e31344" stroke-width="0.28" letter-spacing="0.64" textLength="53.04" lengthAdjust="spacingAndGlyphs">ПСЕВДОСМИ</text>
<text x="525.44" y="112.90" font-size="10.7" font-weight="bold" fill="#ef7d1c" stroke="#ef7d1c" stroke-width="0.28" letter-spacing="0.64" textLength="56.96" lengthAdjust="spacingAndGlyphs">ПОДСТАВНЫЕ</text>
<text x="542.04" y="122.60" font-size="10.7" font-weight="bold" fill="#ef7d1c" stroke="#ef7d1c" stroke-width="0.28" letter-spacing="0.64" textLength="23.23" lengthAdjust="spacingAndGlyphs">ЛИЦА</text>
<text x="618.61" y="112.40" font-size="10.7" font-weight="bold" fill="#ef7d1c" stroke="#ef7d1c" stroke-width="0.28" letter-spacing="0.64" textLength="51.76" lengthAdjust="spacingAndGlyphs">ТРОЛЛИНГ И</text>
<text x="613.48" y="122.40" font-size="10.7" font-weight="bold" fill="#ef7d1c" stroke="#ef7d1c" stroke-width="0.28" letter-spacing="0.64" textLength="61.97" lengthAdjust="spacingAndGlyphs">ОСКОРБЛЕНИЯ</text>
<text x="686.58" y="104.90" font-size="8.7" font-weight="bold" fill="#e31344" stroke="#e31344" stroke-width="0.28" letter-spacing="0.52" textLength="59.55" lengthAdjust="spacingAndGlyphs">ПОТЁМКИНСКИЕ</text>
<text x="698.78" y="113.50" font-size="8.7" font-weight="bold" fill="#e31344" stroke="#e31344" stroke-width="0.28" letter-spacing="0.52" textLength="34.40" lengthAdjust="spacingAndGlyphs">ДЕРЕВНИ</text>
<text x="692.48" y="122.30" font-size="8.7" font-weight="bold" fill="#e31344" stroke="#e31344" stroke-width="0.28" letter-spacing="0.52" textLength="47.23" lengthAdjust="spacingAndGlyphs">ЛЖЕФАКТОВ</text>
<text x="759.38" y="104.90" font-size="8.7" font-weight="bold" fill="#e31344" stroke="#e31344" stroke-width="0.28" letter-spacing="0.52" textLength="40.78" lengthAdjust="spacingAndGlyphs">ПОДДЕЛКА</text>
<text x="771.88" y="113.50" font-size="8.7" font-weight="bold" fill="#e31344" stroke="#e31344" stroke-width="0.28" letter-spacing="0.52" textLength="28.14" lengthAdjust="spacingAndGlyphs">И СЛИВ</text>
<text x="746.06" y="122.30" font-size="8.7" font-weight="bold" fill="#e31344" stroke="#e31344" stroke-width="0.28" letter-spacing="0.52" textLength="53.83" lengthAdjust="spacingAndGlyphs">ИНФОРМАЦИИ</text>
<text x="18.75" y="188.60" font-size="10.6" font-weight="bold" fill="#231f20" stroke="#231f20" stroke-width="0.28" letter-spacing="0.64" textLength="60.34" lengthAdjust="spacingAndGlyphs">СОЦИАЛЬНЫЙ</text>
<text x="56.38" y="198.10" font-size="10.6" font-weight="bold" fill="#231f20" stroke="#231f20" stroke-width="0.28" letter-spacing="0.64" textLength="22.47" lengthAdjust="spacingAndGlyphs">ПУТЬ</text>
<text x="198.99" y="237.20" font-size="10.6" font-weight="bold" fill="#231f20" stroke="#231f20" stroke-width="0.28" letter-spacing="0.64" textLength="80.91" lengthAdjust="spacingAndGlyphs">ПАРАСОЦИАЛЬНЫЙ</text>
<text x="198.95" y="247.60" font-size="10.6" font-weight="bold" fill="#231f20" stroke="#231f20" stroke-width="0.28" letter-spacing="0.64" textLength="22.01" lengthAdjust="spacingAndGlyphs">ПУТЬ</text>
<text x="81.26" y="411.20" font-size="10.6" font-weight="bold" fill="#231f20" stroke="#231f20" stroke-width="0.28" letter-spacing="0.64" textLength="86.99" lengthAdjust="spacingAndGlyphs">КОММУНИКАТИВНЫЕ</text>
<text x="81.22" y="421.80" font-size="10.6" font-weight="bold" fill="#231f20" stroke="#231f20" stroke-width="0.28" letter-spacing="0.64" textLength="22.56" lengthAdjust="spacingAndGlyphs">ПУТИ</text>
<text x="81.09" y="462.30" font-size="10.6" font-weight="bold" fill="#0088d2" stroke="#0088d2" stroke-width="0.28" letter-spacing="0.64" textLength="73.73" lengthAdjust="spacingAndGlyphs">СИМВОЛИЧЕСКОЕ</text>
<text x="81.95" y="471.30" font-size="10.6" font-weight="bold" fill="#0088d2" stroke="#0088d2" stroke-width="0.28" letter-spacing="0.64" textLength="43.21" lengthAdjust="spacingAndGlyphs">ДЕЙСТВИЕ</text>
<text x="228.42" y="496.80" font-size="10.6" font-weight="bold" fill="#222" stroke="#222" stroke-width="0.4" letter-spacing="0.64" textLength="140.71" lengthAdjust="spacingAndGlyphs">МЕТОДЫ, ВЛИЯЮЩИЕ НАПРЯМУЮ</text>
<text x="248.12" y="507.50" font-size="10.6" font-weight="bold" fill="#222" stroke="#222" stroke-width="0.4" letter-spacing="0.64" textLength="100.55" lengthAdjust="spacingAndGlyphs">НА СОЗНАНИЕ ЧЕЛОВЕКА</text>
<text x="396.49" y="496.80" font-size="10.6" font-weight="bold" fill="#222" stroke="#222" stroke-width="0.4" letter-spacing="0.64" textLength="38.76" lengthAdjust="spacingAndGlyphs">МЕТОДЫ</text>
<text x="376.74" y="507.50" font-size="10.6" font-weight="bold" fill="#222" stroke="#222" stroke-width="0.4" letter-spacing="0.64" textLength="77.54" lengthAdjust="spacingAndGlyphs">ДЕЗИНФОРМАЦИИ</text>
<text x="483.95" y="496.80" font-size="10.6" font-weight="bold" fill="#222" stroke="#222" stroke-width="0.4" letter-spacing="0.64" textLength="85.96" lengthAdjust="spacingAndGlyphs">МЕТОДЫ НА ОСНОВЕ</text>
<text x="483.42" y="507.50" font-size="10.6" font-weight="bold" fill="#222" stroke="#222" stroke-width="0.4" letter-spacing="0.64" textLength="86.77" lengthAdjust="spacingAndGlyphs">СОЦИАЛЬНЫЙ СЕТЕЙ</text>
<text x="26.05" y="306.00" font-size="11.8" font-weight="normal" fill="#2d2d2d" stroke="#2d2d2d" stroke-width="0.22" textLength="53.03" lengthAdjust="spacingAndGlyphs">Социальная</text>
<text x="26.10" y="317.50" font-size="11.8" font-weight="normal" fill="#2d2d2d" stroke="#2d2d2d" stroke-width="0.22" textLength="26.61" lengthAdjust="spacingAndGlyphs">среда</text>
<text x="198.94" y="305.80" font-size="11.8" font-weight="normal" fill="#2d2d2d" stroke="#2d2d2d" stroke-width="0.22" textLength="74.11" lengthAdjust="spacingAndGlyphs">Парасоциальная</text>
<text x="199.59" y="316.50" font-size="11.8" font-weight="normal" fill="#2d2d2d" stroke="#2d2d2d" stroke-width="0.22" textLength="25.41" lengthAdjust="spacingAndGlyphs">среда</text>
<text x="332.18" y="422.90" font-size="15.4" font-weight="normal" fill="#2d2d2d" stroke="#2d2d2d" stroke-width="0.22" textLength="66.02" lengthAdjust="spacingAndGlyphs">Публичная</text>
<text x="332.68" y="437.00" font-size="15.4" font-weight="normal" fill="#2d2d2d" stroke="#2d2d2d" stroke-width="0.22" textLength="38.62" lengthAdjust="spacingAndGlyphs">сфера</text>
<text x="413.18" y="459.60" font-size="16.0" font-weight="normal" fill="#2d2d2d" stroke="#2d2d2d" stroke-width="0.22" textLength="39.16" lengthAdjust="spacingAndGlyphs">Медиа</text>
<text x="413.26" y="472.80" font-size="16.0" font-weight="normal" fill="#2d2d2d" stroke="#2d2d2d" stroke-width="0.22" textLength="63.94" lengthAdjust="spacingAndGlyphs">и культура</text>
<text x="509.39" y="459.60" font-size="16.0" font-weight="normal" fill="#2d2d2d" stroke="#2d2d2d" stroke-width="0.22" textLength="59.72" lengthAdjust="spacingAndGlyphs">Политики</text>
<text x="509.42" y="472.80" font-size="16.0" font-weight="normal" fill="#2d2d2d" stroke="#2d2d2d" stroke-width="0.22" textLength="77.35" lengthAdjust="spacingAndGlyphs">и чиновники</text>
<text x="608.14" y="459.60" font-size="16.0" font-weight="normal" fill="#2d2d2d" stroke="#2d2d2d" stroke-width="0.22" textLength="60.31" lengthAdjust="spacingAndGlyphs">Эксперты</text>
<text x="608.18" y="472.80" font-size="16.0" font-weight="normal" fill="#2d2d2d" stroke="#2d2d2d" stroke-width="0.22" textLength="74.87" lengthAdjust="spacingAndGlyphs">и источники</text>
<text x="705.36" y="459.60" font-size="16.0" font-weight="normal" fill="#2d2d2d" stroke="#2d2d2d" stroke-width="0.22" textLength="81.89" lengthAdjust="spacingAndGlyphs">Фактические</text>
<text x="706.02" y="472.80" font-size="16.0" font-weight="normal" fill="#2d2d2d" stroke="#2d2d2d" stroke-width="0.22" textLength="46.68" lengthAdjust="spacingAndGlyphs">данные</text>
</svg></body></html>
